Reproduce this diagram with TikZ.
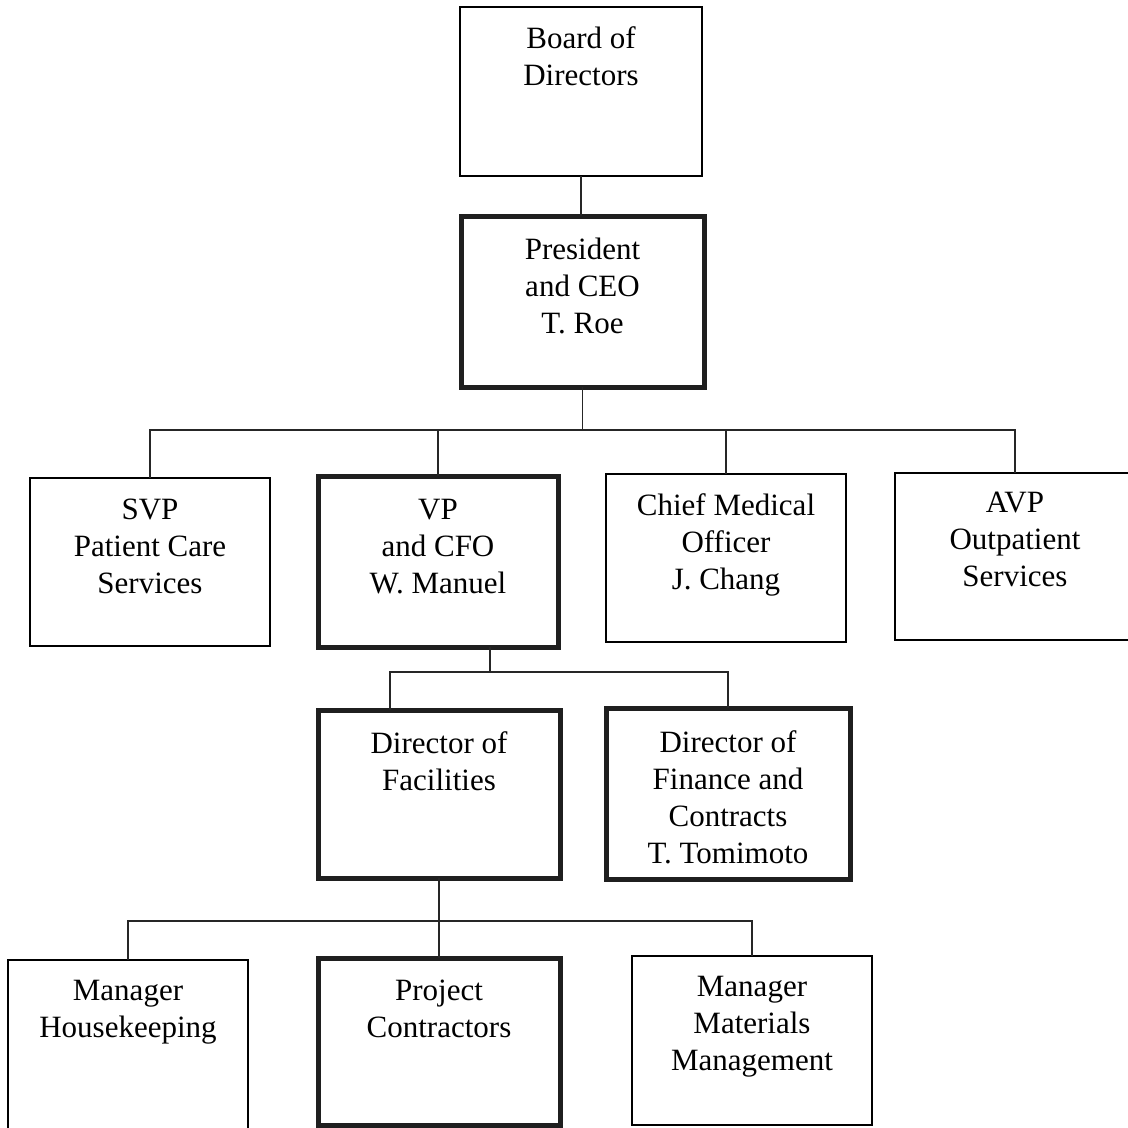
\documentclass[tikz,border=0pt]{standalone}
\usepackage{fontspec}
\setmainfont{Liberation Serif}
\newcommand\orglines[1]{\parbox[t]{236pt}{\centering #1}}
\begin{document}
\begin{tikzpicture}[x=1pt,y=-1pt,
  thinbox/.style={draw=black, line width=1.6pt, inner sep=0pt, outer sep=0pt},
  thickbox/.style={draw=black!88, line width=5pt, inner sep=0pt, outer sep=0pt},
  txt/.style={inner sep=0pt, anchor=base, font=\fontsize{31}{37}\selectfont},
  link/.style={line width=1.2pt, draw=black!85}]
\useasboundingbox (0,0) rectangle (1128,1128);

% boxes
\node[thinbox,  minimum width=242pt, minimum height=169pt] (board) at (581,91.5) {};
\node[thickbox, minimum width=243pt, minimum height=171pt] (pres)  at (582.5,301.5) {};
\node[thinbox,  minimum width=240pt, minimum height=168pt] (svp)   at (150,562) {};
\node[thickbox, minimum width=240pt, minimum height=171pt] (vp)    at (438,561.5) {};
\node[thinbox,  minimum width=240pt, minimum height=168pt] (cmo)   at (726,558) {};
\node[thinbox,  minimum width=240pt, minimum height=167pt] (avp)   at (1015,556.5) {};
\node[thickbox, minimum width=242pt, minimum height=168pt] (fac)   at (439,794) {};
\node[thickbox, minimum width=244pt, minimum height=171pt] (fin)   at (728,793.5) {};
\node[thinbox,  minimum width=240pt, minimum height=172pt] (hk)    at (128,1046) {};
\node[thickbox, minimum width=242pt, minimum height=167pt] (proj)  at (439,1041.5) {};
\node[thinbox,  minimum width=240pt, minimum height=169pt] (mat)   at (752,1040.5) {};

% texts
\node[txt] (boardt) at (581,48)   {\orglines{Board of\\Directors}};
\node[txt] (prest)  at (582.5,259) {\orglines{President\\and CEO\\T. Roe}};
\node[txt] (svpt)   at (150,519)  {\orglines{SVP\\Patient Care\\Services}};
\node[txt] (vpt)    at (438,519)  {\orglines{VP\\and CFO\\W. Manuel}};
\node[txt] (cmot)   at (726,515)  {\orglines{Chief Medical\\Officer\\J. Chang}};
\node[txt] (avpt)   at (1015,512) {\orglines{AVP\\Outpatient\\Services}};
\node[txt] (fact)   at (439,753)  {\orglines{Director of\\Facilities}};
\node[txt] (fint)   at (728,752)  {\orglines{Director of\\Finance and\\Contracts\\T. Tomimoto}};
\node[txt] (hkt)    at (128,1000) {\orglines{Manager\\Housekeeping}};
\node[txt] (projt)  at (439,1000) {\orglines{Project\\Contractors}};
\node[txt] (matt)   at (752,996)  {\orglines{Manager\\Materials\\Management}};

% connectors
\coordinate (bus1) at (582.5,430);
\coordinate (bus2) at (490,672);
\coordinate (bus3) at (439,921);

\draw[link] (board.south) -- (board.south |- pres.north);
\draw[link] (pres.south) -- (bus1);
\draw[link] (bus1) -| (svp.north);
\draw[link] (bus1) -| (vp.north);
\draw[link] (bus1) -| (cmo.north);
\draw[link] (bus1) -| (avp.north);

\draw[link] (vp.south -| bus2) -- (bus2);
\draw[link] (bus2) -| ([xshift=-49pt]fac.north);
\draw[link] (bus2) -| (fin.north);

\draw[link] (fac.south) -- (bus3);
\draw[link] (bus3) -| (hk.north);
\draw[link] (bus3) -| (proj.north);
\draw[link] (bus3) -| (mat.north);
\end{tikzpicture}
\end{document}
